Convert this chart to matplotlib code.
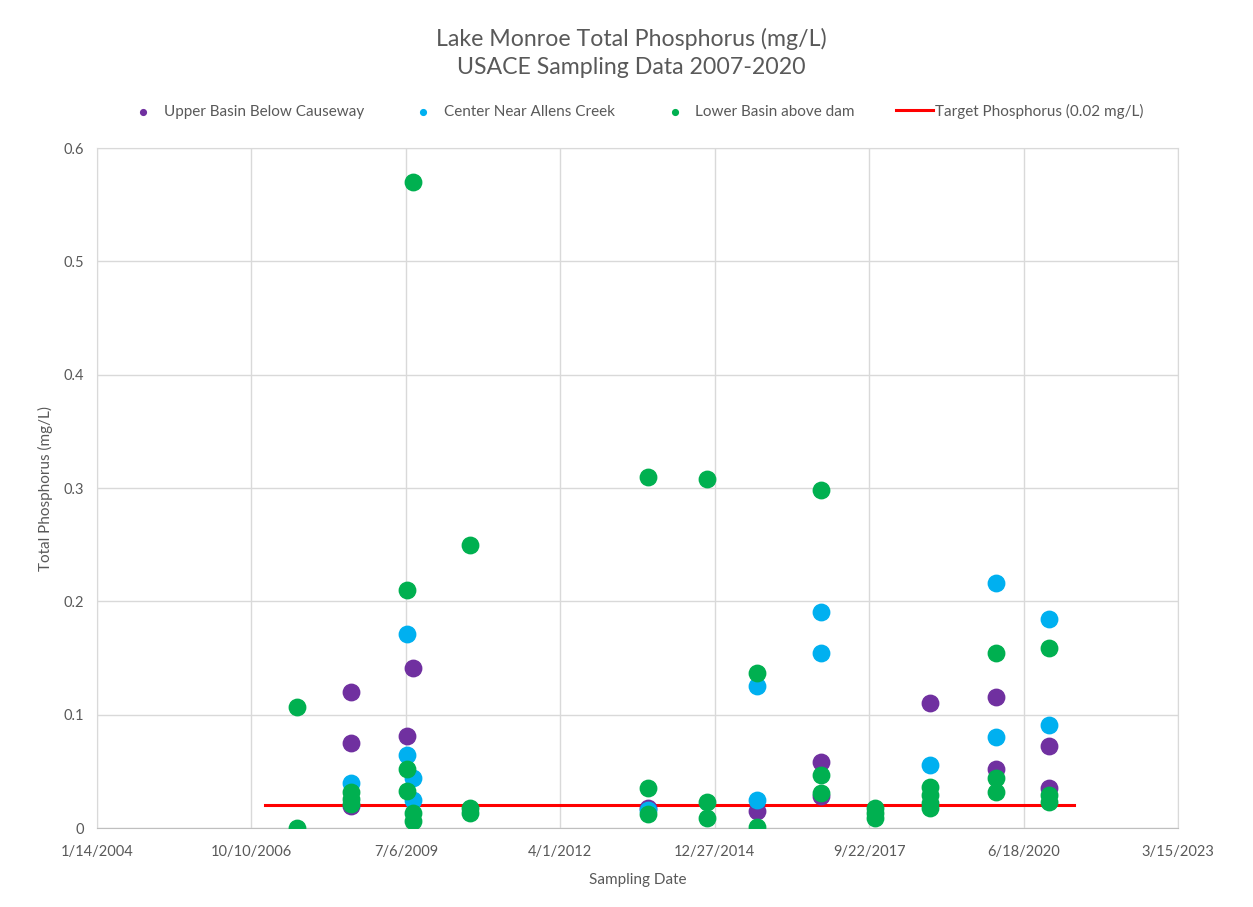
import matplotlib
matplotlib.use("Agg")
import matplotlib.pyplot as plt
import pandas as pd

# sampling data (date, mg/L)
upper_dates = ["2008-07-16", "2008-07-16", "2008-07-16", "2009-07-14", "2009-08-22",
               "2013-10-22", "2015-09-30", "2016-11-12", "2016-11-12", "2018-10-19",
               "2019-12-21", "2019-12-21", "2020-11-28", "2020-11-28"]
upper_tp = [0.120, 0.075, 0.019, 0.081, 0.141,
            0.018, 0.015, 0.058, 0.028, 0.110,
            0.116, 0.052, 0.072, 0.035]

center_dates = ["2008-07-16", "2009-07-14", "2009-07-14", "2009-08-22", "2009-08-22",
                "2013-10-22", "2015-09-30", "2015-09-30", "2016-11-12", "2016-11-12",
                "2018-10-19", "2019-12-21", "2019-12-21", "2020-11-28", "2020-11-28"]
center_tp = [0.040, 0.171, 0.064, 0.044, 0.025,
             0.016, 0.125, 0.025, 0.191, 0.154,
             0.056, 0.216, 0.080, 0.184, 0.091]

lower_dates = ["2007-08-01", "2007-08-01",
               "2008-07-16", "2008-07-16", "2008-07-16",
               "2009-07-14", "2009-07-14", "2009-07-14",
               "2009-08-22", "2009-08-22", "2009-08-22",
               "2010-08-26", "2010-08-26", "2010-08-26",
               "2013-10-22", "2013-10-22", "2013-10-22",
               "2014-11-05", "2014-11-05", "2014-11-05",
               "2015-09-30", "2015-09-30",
               "2016-11-12", "2016-11-12", "2016-11-12",
               "2017-10-28", "2017-10-28", "2017-10-28",
               "2018-10-19", "2018-10-19", "2018-10-19", "2018-10-19",
               "2019-12-21", "2019-12-21", "2019-12-21",
               "2020-11-28", "2020-11-28", "2020-11-28"]
lower_tp = [0.107, 0.0,
            0.032, 0.026, 0.021,
            0.210, 0.052, 0.033,
            0.570, 0.013, 0.006,
            0.250, 0.018, 0.013,
            0.310, 0.035, 0.012,
            0.308, 0.023, 0.009,
            0.137, 0.001,
            0.298, 0.047, 0.031,
            0.018, 0.013, 0.009,
            0.036, 0.029, 0.022, 0.018,
            0.154, 0.044, 0.032,
            0.159, 0.029, 0.023]

target_dates = ["2007-01-07", "2021-05-10"]
target_tp = [0.02, 0.02]

x_ticks = ["2004-01-14", "2006-10-10", "2009-07-06", "2012-04-01",
           "2014-12-27", "2017-09-22", "2020-06-18", "2023-03-15"]
x_tick_labels = ["1/14/2004", "10/10/2006", "7/6/2009", "4/1/2012",
                 "12/27/2014", "9/22/2017", "6/18/2020", "3/15/2023"]
y_ticks = [0, 0.1, 0.2, 0.3, 0.4, 0.5, 0.6]
y_tick_labels = ["0", "0.1", "0.2", "0.3", "0.4", "0.5", "0.6"]

plt.rcParams["font.family"] = ["Lato", "DejaVu Sans"]
text_grey = "#595959"
grid_grey = "#D9D9D9"

fig = plt.figure(figsize=(12.53, 9.07), dpi=100)
ax = fig.add_axes([0.0774, 0.0871, 0.8627, 0.7497])

ax.scatter(pd.to_datetime(upper_dates), upper_tp, s=140, color="#7030A0",
           label="Upper Basin Below Causeway", zorder=3)
ax.scatter(pd.to_datetime(center_dates), center_tp, s=140, color="#00B0F0",
           label="Center Near Allens Creek", zorder=3)
ax.scatter(pd.to_datetime(lower_dates), lower_tp, s=140, color="#00B050",
           label="Lower Basin above dam", zorder=3)
ax.plot(pd.to_datetime(target_dates), target_tp, color="#FF0000", linewidth=2.2,
        label="Target Phosphorus (0.02 mg/L)", zorder=2)

tick_dates = pd.to_datetime(x_ticks)
ax.set_xlim(tick_dates[0], tick_dates[-1])
ax.set_xticks(tick_dates)
ax.set_xticklabels(x_tick_labels)
ax.set_ylim(0, 0.6)
ax.set_yticks(y_ticks)
ax.set_yticklabels(y_tick_labels)

ax.grid(True, color=grid_grey, linewidth=1)
ax.set_axisbelow(True)
for side in ax.spines.values():
    side.set_color(grid_grey)
ax.spines["bottom"].set_color("#BFBFBF")
ax.tick_params(length=0, colors=text_grey, labelsize=10.5)
ax.tick_params(axis="x", pad=12)
ax.tick_params(axis="y", pad=9)

ax.set_xlabel("Sampling Date", color=text_grey, fontsize=11, labelpad=10)
ax.set_ylabel("Total Phosphorus (mg/L)", color=text_grey, fontsize=11, labelpad=8)

fig.text(0.504, 0.942, "Lake Monroe Total Phosphorus (mg/L)\nUSACE Sampling Data 2007-2020",
         ha="center", va="center", fontsize=16.7, color=text_grey, linespacing=1.4)

leg = fig.legend(loc="center", bbox_to_anchor=(0.506, 0.8776), ncol=4, frameon=False,
                 fontsize=11, markerscale=0.35, handlelength=2.4, columnspacing=2.7,
                 handletextpad=0.15)
for t in leg.get_texts():
    t.set_color(text_grey)

fig.savefig("out.png", dpi=100, facecolor="white")
